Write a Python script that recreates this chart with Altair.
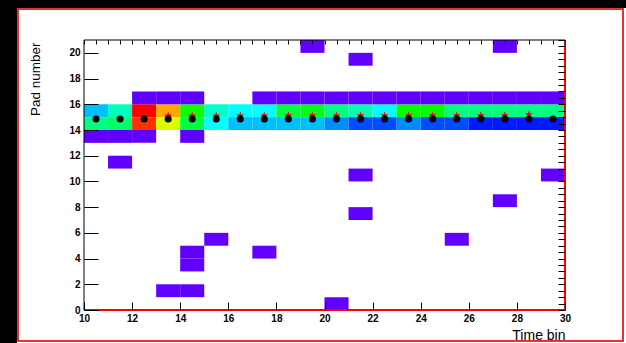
import altair as alt
import pandas as pd

# ---------------- data ----------------
time_bins = list(range(10, 30))
pad15_counts = [35, 45, 100, 87, 61, 44, 40, 40, 55, 58, 50, 46, 40, 60, 60, 50, 50, 50, 50, 50]
pad14_counts = [50, 52, 96, 77, 55, 40, 35, 35, 35, 35, 31, 26, 26, 31, 26, 26, 22, 22, 22, 22]
pad16_bins = [12, 13, 14, 17, 18, 19, 20, 21, 22, 23, 24, 25, 26, 27, 28, 29]
pad13_bins = [10, 11, 12, 14]
single_bins = [19, 27, 21, 11, 21, 29, 27, 21, 15, 25, 17, 14, 14, 13, 14, 20]
single_pads = [20, 20, 19, 11, 10, 10, 8, 7, 5, 5, 4, 4, 3, 1, 1, 0]
low_count = 1

black_bins = list(range(10, 30))
black_centroid = [14.85, 14.85, 14.85, 14.86, 14.85, 14.85, 14.85, 14.85, 14.86, 14.85,
                  14.85, 14.85, 14.85, 14.85, 14.85, 14.85, 14.85, 14.85, 14.85, 14.85]
red_bins = list(range(12, 29))
red_centroid = [15.08, 15.1, 15.1, 15.09, 15.1, 15.11, 15.12, 15.12, 15.11, 15.12, 15.12,
                15.12, 15.12, 15.12, 15.12, 15.13, 15.2]

palette_stops = [1, 20, 40, 60, 80, 100]
palette_colors = ["#6000FF", "#0000FF", "#00FFFF", "#00FF00", "#FFFF00", "#FF0000"]

x_ticks_major = list(range(10, 31, 2))
x_ticks_minor = [10 + 0.5 * i for i in range(41)]
y_ticks_major = list(range(0, 21, 2))
y_ticks_minor = [0.5 * i for i in range(43)]

# ---------------- tables ----------------
rows = []
for t, v in zip(time_bins, pad15_counts):
    rows.append({"t0": t, "t1": t + 1, "p0": 15, "p1": 16, "v": v})
for t, v in zip(time_bins, pad14_counts):
    rows.append({"t0": t, "t1": t + 1, "p0": 14, "p1": 15, "v": v})
for t in pad16_bins:
    rows.append({"t0": t, "t1": t + 1, "p0": 16, "p1": 17, "v": low_count})
for t in pad13_bins:
    rows.append({"t0": t, "t1": t + 1, "p0": 13, "p1": 14, "v": low_count})
for t, p in zip(single_bins, single_pads):
    rows.append({"t0": t, "t1": t + 1, "p0": p, "p1": p + 1, "v": low_count})
heat_df = pd.DataFrame(rows)

black_df = pd.DataFrame({"t": [b + 0.5 for b in black_bins], "c": black_centroid})
red_df = pd.DataFrame({"t": [b + 0.5 for b in red_bins], "c": red_centroid})

# ---------------- layout ----------------
W, H = 481, 270
PAD_L, PAD_T = 84, 40
FONT = "Liberation Sans"
STAR = ("M0,-1L0.235,-0.324L0.951,-0.309L0.38,0.124L0.588,0.809L0,0.4"
        "L-0.588,0.809L-0.38,0.124L-0.951,-0.309L-0.235,-0.324Z")

xs = alt.Scale(domain=[10, 30], nice=False, zero=False)
ys = alt.Scale(domain=[0, 21], nice=False, zero=False)

ax_x_major = alt.Axis(values=x_ticks_major, tickSize=8, offset=-8, domain=False, grid=False,
                      labelPadding=3, labelFont=FONT, labelFontSize=10, labelFontWeight="bold",
                      labelColor="black", tickColor="black", labelFlush=False, labelOverlap=False,
                      title="Time bin", titleFont=FONT, titleFontSize=14, titleFontWeight="normal",
                      titleColor="black", titleX=W, titleY=37, titleAlign="right",
                      titleBaseline="alphabetic", zindex=1)
ax_y_major = alt.Axis(values=y_ticks_major, tickSize=14, offset=-14, domain=False, grid=False,
                      labelPadding=4, labelFont=FONT, labelFontSize=10, labelFontWeight="bold",
                      labelColor="black", tickColor="black", labelFlush=False, labelOverlap=False,
                      title="Pad number", titleFont=FONT, titleFontSize=13.5, titleFontWeight="normal",
                      titleColor="black", titleX=-63, titleY=2, titleAngle=270, titleAlign="right",
                      titleBaseline="middle", zindex=1)
ax_x_minor = alt.Axis(values=x_ticks_minor, tickSize=4, offset=-4, domain=False, grid=False,
                      labels=False, tickColor="black", title=None, zindex=1)
ax_y_minor = alt.Axis(values=y_ticks_minor, tickSize=7, offset=-7, domain=False, grid=False,
                      labels=False, tickColor="black", title=None, zindex=1)

one = alt.Data(values=[{"k": 0}])

panel = alt.Chart(one).mark_rect(fill="white").encode(
    x=alt.value(17 - PAD_L), x2=alt.value(626 - PAD_L),
    y=alt.value(8 - PAD_T), y2=alt.value(343 - PAD_T))
border = alt.Chart(one).mark_rect(fillOpacity=0, stroke="#E8322E", strokeWidth=2).encode(
    x=alt.value(18 - PAD_L), x2=alt.value(623 - PAD_L),
    y=alt.value(9 - PAD_T), y2=alt.value(341 - PAD_T))

heat = alt.Chart(heat_df).mark_rect().encode(
    x=alt.X("t0:Q", scale=xs, axis=ax_x_major),
    x2="t1:Q",
    y=alt.Y("p0:Q", scale=ys, axis=ax_y_major),
    y2="p1:Q",
    color=alt.Color("v:Q", scale=alt.Scale(domain=palette_stops, range=palette_colors,
                                            interpolate="rgb"), legend=None),
)

frame = alt.Chart(one).mark_rect(fillOpacity=0, stroke="black", strokeWidth=1).encode(
    x=alt.value(0), x2=alt.value(W), y=alt.value(0), y2=alt.value(H))
red_right = alt.Chart(one).mark_rule(color="#FF0000", strokeWidth=2).encode(
    x=alt.value(W), y=alt.value(0), y2=alt.value(H))
red_bottom = alt.Chart(one).mark_rule(color="#FF0000", strokeWidth=2).encode(
    x=alt.value(0), x2=alt.value(W), y=alt.value(H))

red_pts = alt.Chart(red_df).mark_point(shape=STAR, filled=True, color="#FF0000", size=72,
                                       opacity=1).encode(
    x=alt.X("t:Q", scale=xs, axis=ax_x_minor),
    y=alt.Y("c:Q", scale=ys, axis=None))
black_pts = alt.Chart(black_df).mark_circle(color="black", size=50, opacity=1).encode(
    x=alt.X("t:Q", scale=xs, axis=None),
    y=alt.Y("c:Q", scale=ys, axis=ax_y_minor))

chart = alt.layer(panel, border, heat, frame, red_right, red_bottom, red_pts, black_pts).resolve_axis(
    x="independent", y="independent"
).properties(
    width=W, height=H,
    padding={"left": PAD_L, "top": PAD_T, "right": 626 - PAD_L - W, "bottom": 343 - PAD_T - H},
    autosize=alt.AutoSizeParams(type="none"),
    background="black",
).configure_view(stroke=None)

chart.save("out.html", embed_options={"renderer": "svg", "actions": False})
